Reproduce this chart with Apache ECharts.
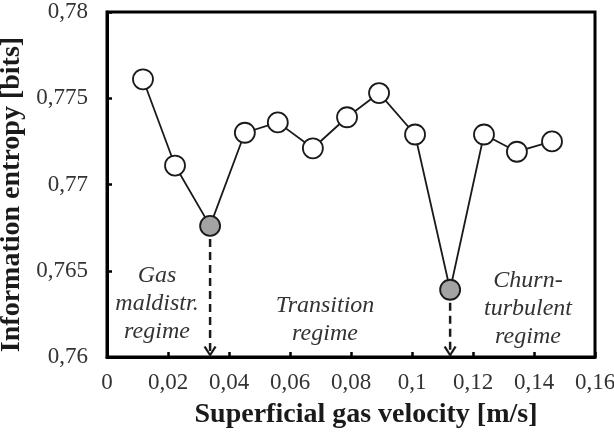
<!DOCTYPE html>
<html>
<head>
<meta charset="utf-8">
<script src="https://cdn.jsdelivr.net/npm/echarts@6/dist/echarts.min.js"></script>
<style>
  html, body { margin: 0; padding: 0; background: #fff; }
  #chart { width: 614px; height: 434px; }
</style>
</head>
<body>
<div id="chart"></div>
<script>
// superficial gas velocity [m/s]
const gasVelocity = [0.0118, 0.0223, 0.0338, 0.0452, 0.0560, 0.0675, 0.0787, 0.0892, 0.1010, 0.1125, 0.1236, 0.1344, 0.1459];
// information entropy [bits]
const entropy = [0.7761, 0.7711, 0.7676, 0.7730, 0.7736, 0.7721, 0.7739, 0.7753, 0.7729, 0.7639, 0.7729, 0.7719, 0.7725];
// points where the regime changes (grey markers)
const transitionIdx = [2, 9];
const regimeLabels = ['Gas\nmaldistr.\nregime', 'Transition\nregime', 'Churn-\nturbulent\nregime'];

const Y_MIN = 0.76, Y_MAX = 0.78;
const SERIF = '"Liberation Serif", "DejaVu Serif", serif';
const INK = '#1a1a1a';

const fmt = v => String(+v.toFixed(3)).replace('.', ',');

const chevron = 'path://M0,1 L1.6,0 L5,6.6 L8.4,0 L10,1 L5,10 Z';

const mainData = gasVelocity.map((x, i) => {
    const grey = transitionIdx.includes(i);
    return {
        value: [x, entropy[i]],
        itemStyle: { color: grey ? '#a3a3a3' : '#fff', borderColor: INK, borderWidth: 1.8 }
    };
});

// dashed drop lines from the transition points to the x axis
const dropSeries = transitionIdx.map(i => ({
    type: 'line',
    z: 1,
    silent: true,
    lineStyle: { color: INK, width: 2.5, type: [8, 5] },
    data: [
        { value: [gasVelocity[i], entropy[i]], symbol: 'none' },
        { value: [gasVelocity[i], Y_MIN], symbol: chevron, symbolSize: [13, 11], symbolOffset: [0, -5.5],
          itemStyle: { color: INK } }
    ]
}));

const chart = echarts.init(document.getElementById('chart'));

chart.setOption({
    animation: false,
    grid: {
        left: 107, right: 19, top: 12, bottom: 77,
        outerBoundsMode: 'none',
        show: true, borderColor: '#000', borderWidth: 3
    },
    xAxis: {
        type: 'value',
        min: 0, max: 0.16, interval: 0.02,
        name: 'Superficial gas velocity [m/s]',
        nameLocation: 'middle',
        nameGap: 44,
        nameTextStyle: { fontFamily: SERIF, fontWeight: 'bold', fontSize: 28, color: INK, padding: [0, 0, 0, 30] },
        axisLine: { lineStyle: { color: '#000', width: 3 } },
        axisTick: { inside: true, length: 5, lineStyle: { color: '#000', width: 2.5 } },
        axisLabel: { formatter: fmt, fontFamily: SERIF, fontSize: 23, color: '#333', margin: 14 },
        splitLine: { show: false }
    },
    yAxis: {
        type: 'value',
        min: Y_MIN, max: Y_MAX, interval: 0.005,
        name: 'Information entropy [bits]',
        nameLocation: 'middle',
        nameGap: 71,
        nameTextStyle: { fontFamily: SERIF, fontWeight: 'bold', fontSize: 28, color: INK, padding: [0, 20, 0, 0] },
        axisLine: { lineStyle: { color: '#000', width: 3 } },
        axisTick: { inside: true, length: 5, lineStyle: { color: '#000', width: 2.5 } },
        axisLabel: { formatter: fmt, fontFamily: SERIF, fontSize: 23, color: '#333', margin: 19 },
        splitLine: { show: false }
    },
    graphic: [
        { type: 'text', x: 157, y: 262, style: { text: regimeLabels[0] } },
        { type: 'text', x: 325, y: 292, style: { text: regimeLabels[1] } },
        { type: 'text', x: 528, y: 267, style: { text: regimeLabels[2] } }
    ].map(g => {
        g.style = Object.assign({ font: 'italic 24px ' + SERIF, fill: '#333', align: 'center',
            verticalAlign: 'top', lineHeight: 28 }, g.style);
        return g;
    }),
    series: [
        {
            type: 'line',
            z: 3,
            data: mainData,
            symbol: 'circle',
            symbolSize: 20,
            lineStyle: { color: INK, width: 1.8 }
        }
    ].concat(dropSeries)
});
</script>
</body>
</html>
